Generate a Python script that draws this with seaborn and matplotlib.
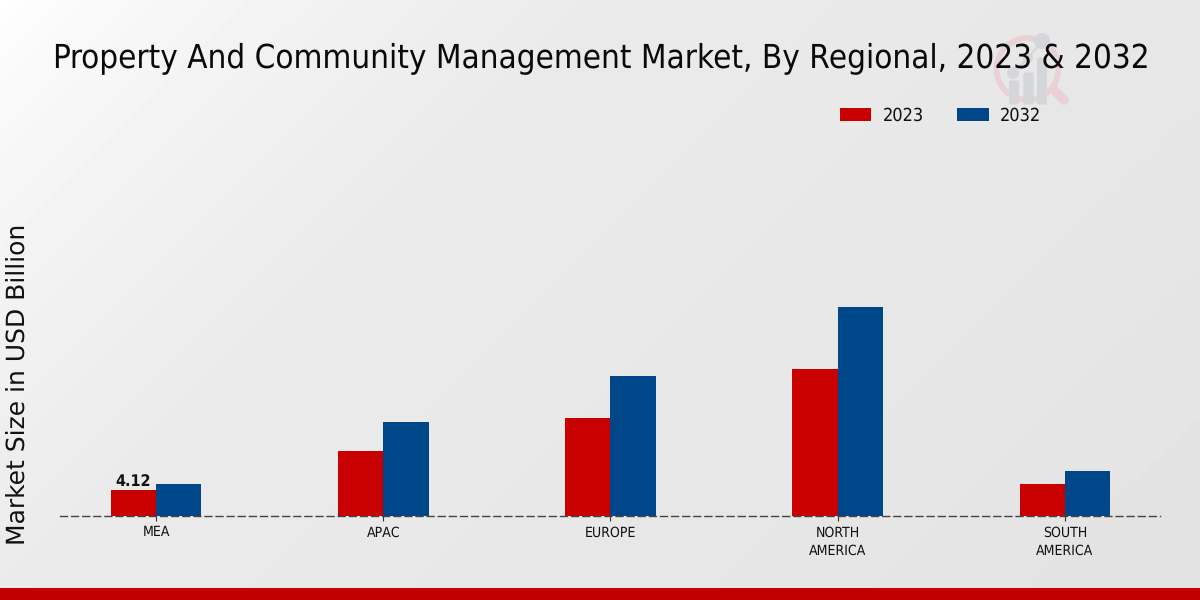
import numpy as np
import pandas as pd
import matplotlib
matplotlib.use("Agg")
import matplotlib.pyplot as plt
from matplotlib.patches import Circle, FancyBboxPatch, Patch
from matplotlib.lines import Line2D
import seaborn as sns

regions = ["MEA", "APAC", "EUROPE", "NORTH\nAMERICA", "SOUTH\nAMERICA"]
values_2023 = [4.12, 10.3, 15.5, 23.3, 5.1]
values_2032 = [5.1, 14.9, 22.2, 33.1, 7.1]
years = ["2023", "2032"]
colors = ["#C80000", "#00478A"]
title = "Property And Community Management Market, By Regional, 2023 & 2032"
ylabel = "Market Size in USD Billion"

df = pd.DataFrame({
    "Region": regions * 2,
    "Year": [years[0]] * 5 + [years[1]] * 5,
    "Value": values_2023 + values_2032,
})

sns.set_theme(style="white")
plt.rcParams["font.family"] = ["DejaVu Sans"]
plt.rcParams["text.hinting"] = "none"
plt.rcParams["text.hinting_factor"] = 1

fig = plt.figure(figsize=(12, 6), dpi=100)

# background gradient and decoration, in pixel coordinates
bg = fig.add_axes([0, 0, 1, 1], zorder=0)
bg.set_xlim(0, 1200)
bg.set_ylim(600, 0)
bg.axis("off")
px, py = np.meshgrid(np.linspace(0, 1200, 240), np.linspace(0, 600, 120))
d = px + py
g = 1 - 0.085 * np.clip(d / 650, 0, 1) ** 0.7 - 0.025 * np.clip((d - 800) / 1000, 0, 1)
bg.imshow(g, extent=(0, 1200, 600, 0), cmap="gray", vmin=0, vmax=1, aspect="auto", zorder=0)
bg.add_patch(Circle((1027.5, 69), 31, fill=False, ec="#E8D2D5", lw=4.2, zorder=1))
bg.add_line(Line2D([1054, 1064], [90, 100], color="#E8D2D5", lw=7, solid_capstyle="round", zorder=1))
for x0, top in [(1014, 82), (1028.5, 74), (1042, 59)]:
    bg.add_patch(FancyBboxPatch((x0 - 3.5, top), 7, 103 - top, boxstyle="round,pad=1.5",
                                fc="#D4D6D9", ec="none", zorder=2))
for cx, cy, r in [(1042, 41, 8), (1028, 58, 5), (1013, 73, 6)]:
    bg.add_patch(Circle((cx, cy), r, fc="#D4D6D9", ec="none", zorder=2))
bg.add_line(Line2D([1013, 1028, 1042], [73, 58, 41], color="#D4D6D9", lw=1.5, zorder=2))
bg.add_patch(plt.Rectangle((0, 588), 1200, 12, fc="#C00000", ec="none", zorder=3))

ax = fig.add_axes([60 / 1200, 84 / 600, 1100 / 1200, 416 / 600], zorder=1)
ax.patch.set_alpha(0)
sns.barplot(data=df, x="Region", y="Value", hue="Year", palette=colors, order=regions,
            hue_order=years, width=0.4, gap=0, saturation=1, dodge=True, legend=False,
            edgecolor="none", linewidth=0, ax=ax)

ax.set_xlim(-0.4224, 4.418)
ax.set_ylim(0, 65.9)
ax.set_xlabel("")
ax.set_ylabel("")
ax.set_yticks([])
for s in ["top", "left", "right"]:
    ax.spines[s].set_visible(False)
ax.spines["bottom"].set_linestyle((0, (5, 3)))
ax.spines["bottom"].set_color("#444444")
ax.spines["bottom"].set_linewidth(1.0)
ax.tick_params(axis="x", bottom=True, length=3.5, width=0.8, color="#333333", pad=3.5)
for lab in ax.get_xticklabels():
    lab.set_fontsize(10.1)
    lab.set_stretch("condensed")
    lab.set_color("#111111")
    lab.set_linespacing(1.5)

ax.bar_label(ax.containers[0], labels=["4.12", "", "", "", ""], fontsize=11.5, fontweight="bold",
             color="#111111", padding=0.3, fontstretch="condensed")

fig.text(601 / 1200, 1 - 58 / 600, title, ha="center", va="center", fontsize=23.5,
         stretch="condensed", color="#0A0A0A")
fig.text(18 / 1200, 1 - 384 / 600, ylabel, ha="center", va="center", rotation=90,
         fontsize=18.35, color="#111111")

handles = [Patch(fc=c, ec="none") for c in colors]
fig.legend(handles, years, loc="center", bbox_to_anchor=(940.5 / 1200, 1 - 116 / 600), ncol=2,
           frameon=False, handlelength=1.72, handleheight=0.7, handletextpad=0.62, columnspacing=1.8,
           prop={"size": 13.2, "stretch": "condensed"}, labelcolor="#111111")

fig.savefig("out.png", dpi=100)
